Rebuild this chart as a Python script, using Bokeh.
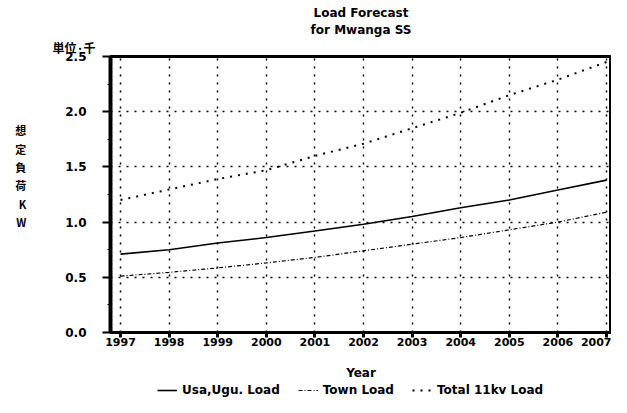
from bokeh.plotting import figure
from bokeh.layouts import column
from bokeh.models import Legend, LegendItem, Range1d, FixedTicker, CustomJSTickFormatter, Title
from bokeh.embed import file_html
from bokeh.resources import INLINE

years = [1997, 1998, 1999, 2000, 2001, 2002, 2003, 2004, 2005, 2006, 2007]
usa_ugu = [0.71, 0.75, 0.81, 0.86, 0.92, 0.98, 1.05, 1.13, 1.20, 1.29, 1.38]
town = [0.51, 0.545, 0.585, 0.63, 0.68, 0.74, 0.80, 0.86, 0.93, 1.00, 1.09]
total = [1.20, 1.295, 1.39, 1.47, 1.60, 1.71, 1.85, 1.99, 2.15, 2.29, 2.45]
y_ticks = [0.0, 0.5, 1.0, 1.5, 2.0, 2.5]
series_names = ["Usa,Ugu. Load", "Town Load", "Total 11kv Load"]
title_1 = "Load Forecast"
title_2 = "for Mwanga SS"
unit_text = "単位·千"
y_label = "想\n定\n負\n荷\nK\nW\n \n "
x_label = "Year"

FONT = "DejaVu Sans"
styles = [dict(line_color="black", line_width=1.6),
          dict(line_color="black", line_width=1.2, line_dash="4 2 1 2"),
          dict(line_color="black", line_width=2, line_dash="2 6")]
series = [usa_ugu, town, total]

p = figure(width=611, height=382,
           x_range=Range1d(1996.794, 2007.103), y_range=Range1d(0, 2.5),
           output_backend="svg", toolbar_location=None,
           min_border_left=110, min_border_right=0,
           min_border_top=56, min_border_bottom=50)
p.background_fill_color = "white"
p.border_fill_color = "white"
p.outline_line_color = "black"
p.outline_line_width = 3

# axes
p.xaxis.ticker = FixedTicker(ticks=years)
p.yaxis.ticker = FixedTicker(ticks=y_ticks, minor_ticks=[0.25, 0.75, 1.25, 1.75, 2.25])
p.yaxis.formatter = CustomJSTickFormatter(code="return tick.toFixed(1);")
for ax in (p.xaxis, p.yaxis):
    ax.axis_line_color = "black"
    ax.major_tick_line_color = "black"
    ax.major_tick_in = 0
    ax.major_label_text_font = FONT
    ax.major_label_text_font_style = "bold"
    ax.major_label_text_color = "black"
p.xaxis.major_label_text_font_size = "11px"
p.yaxis.major_label_text_font_size = "12px"
p.yaxis.axis_line_width = 4
p.xaxis.axis_line_width = 3
p.yaxis.major_tick_out = 8
p.yaxis.major_tick_line_width = 2
p.yaxis.minor_tick_out = 3
p.yaxis.minor_tick_in = 0
p.yaxis.minor_tick_line_color = "black"
p.yaxis.major_label_standoff = 16
p.yaxis.axis_label = y_label
p.yaxis.axis_label_orientation = "horizontal"
p.yaxis.axis_label_standoff = 36
p.yaxis.axis_label_text_font = "Noto Sans CJK JP"
p.yaxis.axis_label_text_font_style = "bold"
p.yaxis.axis_label_text_font_size = "11px"
p.yaxis.axis_label_text_line_height = 1.15
p.yaxis.axis_label_text_color = "black"

p.xaxis.major_tick_out = 5
p.xaxis.major_tick_line_width = 3
p.xaxis.minor_tick_line_color = None
p.xaxis.major_label_standoff = 0
p.xaxis.axis_label = x_label
p.xaxis.axis_label_text_font = FONT
p.xaxis.axis_label_text_font_style = "bold"
p.xaxis.axis_label_text_font_size = "12px"
p.xaxis.axis_label_standoff = 17
p.xaxis.axis_label_text_color = "black"

# grid
for g in (p.xgrid, p.ygrid):
    g.grid_line_color = "black"
    g.grid_line_dash = "2 6"
    g.grid_line_width = 1.5
    g.grid_line_alpha = 1.0

# lines
for vals, st in zip(series, styles):
    p.line(years, vals, **st)

# titles (closest to the frame first)
p.add_layout(Title(text=unit_text, align="left", offset=-58, standoff=1,
                   text_font="Noto Sans CJK JP", text_font_style="bold",
                   text_font_size="12px", text_color="black"), "above")
p.add_layout(Title(text=title_2, align="center", offset=8, standoff=0,
                   text_font=FONT, text_font_style="bold",
                   text_font_size="12px", text_color="black"), "above")
p.add_layout(Title(text=title_1, align="center", offset=8, standoff=2,
                   text_font=FONT, text_font_style="bold",
                   text_font_size="12px", text_color="black"), "above")

# legend strip below the chart (same series, drawn outside its view)
lf = figure(width=611, height=15, x_range=Range1d(0, 1), y_range=Range1d(0, 1),
            output_backend="svg", toolbar_location=None,
            x_axis_type=None, y_axis_type=None,
            min_border_left=0, min_border_right=0, min_border_top=0, min_border_bottom=0)
lf.outline_line_color = None
lf.background_fill_color = "white"
lf.border_fill_color = "white"
lf.xgrid.visible = False
lf.ygrid.visible = False
items = []
for name, vals, st in zip(series_names, series, styles):
    r = lf.line(years, vals, **st)
    items.append(LegendItem(label=name, renderers=[r]))
legend = Legend(items=items, location=(47, 0), orientation="horizontal",
                background_fill_alpha=0, border_line_color=None,
                padding=0, margin=0, spacing=18,
                glyph_width=20, glyph_height=14, label_height=14,
                label_standoff=5,
                label_text_font=FONT, label_text_font_style="bold",
                label_text_font_size="12px",
                label_text_color="black")
lf.add_layout(legend, "center")

layout = column(p, lf, spacing=0)
open("out.html", "w").write(file_html(layout, INLINE))
